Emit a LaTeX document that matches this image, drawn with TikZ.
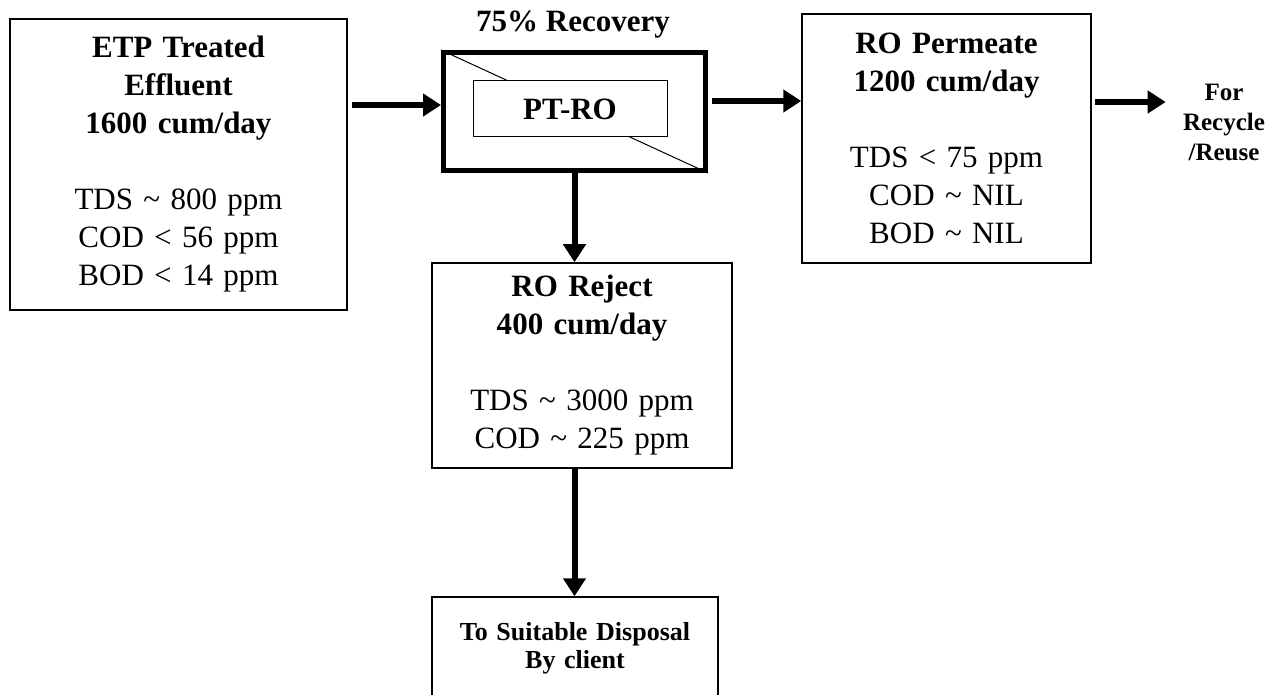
\documentclass[tikz,border=0pt]{standalone}
\usepackage{fontspec}
\setmainfont{Liberation Serif}
\usepackage{tikz}
\usetikzlibrary{arrows.meta}
\newcommand{\bigtxt}{\fontsize{15.5}{19}\selectfont}
\newcommand{\smalltxt}{\fontsize{12.5}{15}\selectfont}
\tikzstyle{stream}=[draw, line width=0.75pt, align=center, inner sep=0pt, font=\bigtxt]
\tikzstyle{flow}=[line width=3pt, -{Triangle[length=9pt, width=11pt]}]

\begin{document}
\begin{tikzpicture}[x=0.5pt, y=-0.5pt]
    \useasboundingbox (0,0) rectangle (1274,695);
    \clip (0,0) rectangle (1274,695);

    % Feed
    \node[stream, minimum width=168.5pt, minimum height=145.5pt, text width=160pt] (feed) at (178.5,164.5)
        {\textbf{ETP Treated}\\ \textbf{Effluent}\\ \textbf{1600 cum/day}\\[19pt]
         TDS \textasciitilde{} 800 ppm\\ COD < 56 ppm\\ BOD < 14 ppm};

    % PT-RO unit
    \node[font=\bigtxt\bfseries, anchor=base] (rec) at (573,32) {75\% Recovery};
    \node[draw, line width=2.5pt, minimum width=131pt, minimum height=59pt] (ro) at (574.5,111.5) {};
    \draw[line width=0.5pt] (ro.north west) -- (ro.south east);
    \node[draw, fill=white, line width=0.5pt, minimum width=97pt, minimum height=28pt, font=\bigtxt\bfseries] (pt) at (570,109) {PT-RO};

    % Permeate
    \node[stream, minimum width=144.5pt, minimum height=124.5pt, text width=140pt] (perm) at (946.5,138.5)
        {\textbf{RO Permeate}\\ \textbf{1200 cum/day}\\[19pt]
         TDS < 75 ppm\\ COD \textasciitilde{} NIL\\ BOD \textasciitilde{} NIL};
    \node[font=\smalltxt\bfseries, align=center, inner xsep=8.5pt] (out) at (1224,122) {For\\ Recycle\\ /Reuse};

    % Reject
    \node[stream, minimum width=150pt, minimum height=102.5pt, text width=145pt] (rej) at (582,365.5)
        {\textbf{RO Reject}\\ \textbf{400 cum/day}\\[19pt]
         TDS \textasciitilde{} 3000 ppm\\ COD \textasciitilde{} 225 ppm};
    \node[stream, font=\fontsize{13}{14}\selectfont\bfseries, minimum width=143pt, minimum height=51.5pt, text width=140pt] (disp) at (575,648.5)
        {To Suitable Disposal\\ By client};

    % Flows
    \coordinate (f1) at (352,105);
    \coordinate (f2) at (712,101);
    \coordinate (f3) at (1095,102);
    \draw[flow] (f1) -- (f1 -| ro.west);
    \draw[flow] (f2) -- (f2 -| perm.west);
    \draw[flow] (f3) -- (f3 -| out.west);
    \draw[flow] (ro.south) -- (ro.south |- rej.north);
    \draw[flow] (ro.south |- rej.south) -- (ro.south |- disp.north);
\end{tikzpicture}
\end{document}
